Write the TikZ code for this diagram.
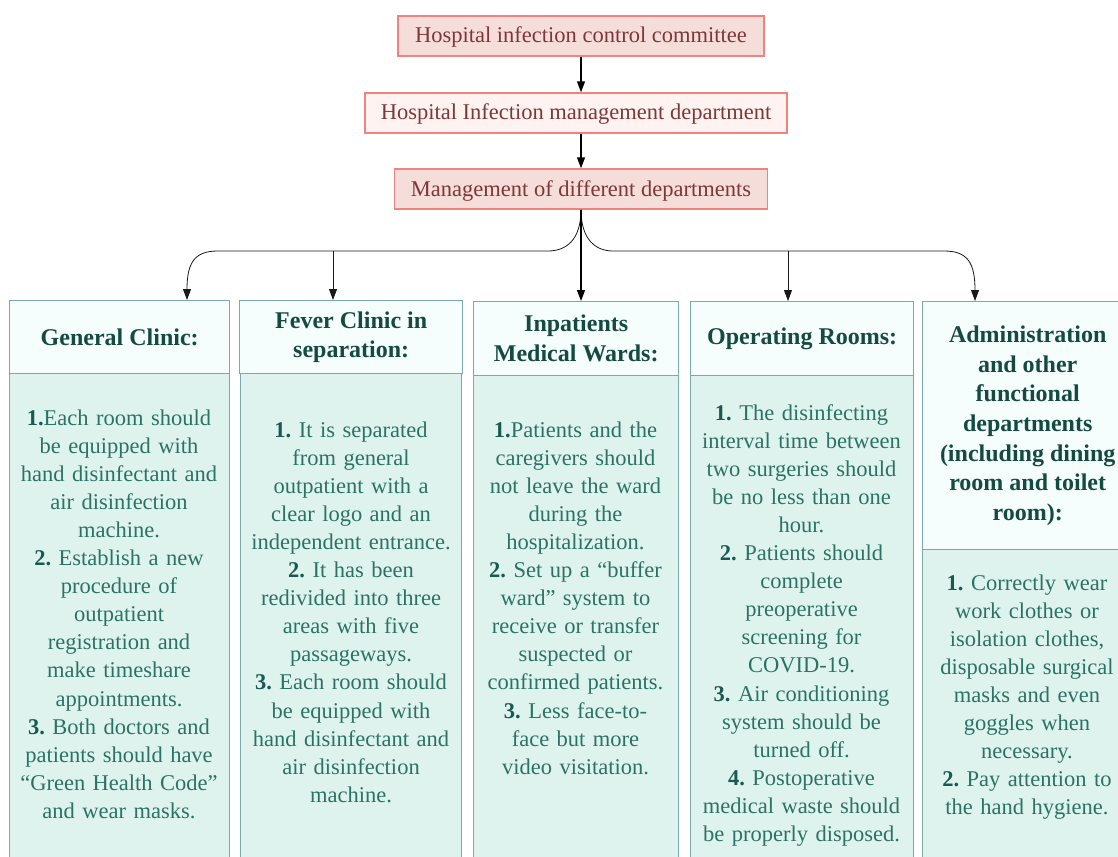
\documentclass[tikz,border=0pt]{standalone}
\usepackage{fontspec}
\setmainfont{Liberation Serif}
\usetikzlibrary{arrows.meta}
\definecolor{pinkfill}{RGB}{245,222,217}
\definecolor{pinklight}{RGB}{255,243,241}
\definecolor{pinkline}{RGB}{240,130,128}
\definecolor{redtext}{RGB}{125,55,55}
\definecolor{headfill}{RGB}{245,253,253}
\definecolor{tealline}{RGB}{122,170,172}
\definecolor{bodyfill}{RGB}{223,243,238}
\definecolor{headtext}{RGB}{20,75,65}
\definecolor{bodytext}{RGB}{42,115,100}
\definecolor{numtext}{RGB}{25,90,80}
\tikzset{
  topbox/.style={draw=pinkline, line width=1.4pt, minimum height=40pt, inner sep=0pt,
    text height=19pt, text depth=5pt,
    text=redtext, font=\fontsize{22.5}{27}\selectfont},
  headbox/.style={draw=tealline, line width=1.4pt, fill=headfill, anchor=north west,
    inner sep=0pt, text=headtext, align=center, font=\bfseries\fontsize{24}{29.7}\selectfont},
  bodybox/.style={draw=tealline, line width=1.4pt, fill=bodyfill, anchor=north west, inner sep=0pt},
  bodytxt/.style={anchor=base, text width=218pt, align=center, inner sep=0pt,
    text=bodytext, font=\frenchspacing\fontsize{22.5}{28.1}\selectfont},
  conn/.style={draw=black!90, line width=0.8pt, -{Triangle[length=11pt,width=8pt]}},
  mainarrow/.style={draw=black, line width=1.4pt, -{Triangle[length=11pt,width=8pt]}}
}
\newcommand{\nm}[1]{\textbf{\color{numtext}#1}}
\begin{document}
\frenchspacing
\begin{tikzpicture}[x=1pt,y=-1pt]
\useasboundingbox (0,0) rectangle (1118,856);
\clip (0,0) rectangle (1118,856);

% top chain
\node[topbox, fill=pinkfill, minimum width=366pt] (m1) at (581,36) {Hospital infection control committee};
\node[topbox, fill=pinklight, minimum width=422pt] (m2) at (576,113) {Hospital Infection management department};
\node[topbox, fill=pinkfill, minimum width=373pt] (m3) at (581,189) {Management of different departments};
\draw[mainarrow] (m1.south) -- (m1.south |- m2.north);
\draw[mainarrow] (m1.south |- m2.south) -- (m3.north);

% column bodies
\node[bodybox, minimum width=220pt, minimum height=520pt] (b1) at (9,373) {};
\node[bodybox, minimum width=221pt, minimum height=520pt] (b2) at (240,373) {};
\node[bodybox, minimum width=205pt, minimum height=520pt] (b3) at (473,375) {};
\node[bodybox, minimum width=223pt, minimum height=520pt] (b4) at (690,375) {};
\node[bodybox, minimum width=210pt, minimum height=400pt] (b5) at (922,549) {};

% column headers
\node[headbox, minimum width=220pt, minimum height=73pt] (h1) at (9,300) {General Clinic:};
\node[headbox, minimum width=223pt, minimum height=73pt] (h2) at (239,300) {Fever Clinic in\\separation:};
\node[headbox, minimum width=205pt, minimum height=74pt] (h3) at (473,301) {Inpatients\\Medical Wards:};
\node[headbox, minimum width=223pt, minimum height=74pt] (h4) at (690,301) {Operating Rooms:};
\node[headbox, minimum width=210pt, minimum height=248pt] (h5) at (922,301) {Administration\\and other\\functional\\departments\\(including dining\\room and toilet\\room):};

% body texts
\node[bodytxt] (t1) at (119,425) {\nm{1.}Each room should\\be equipped with\\hand disinfectant and\\air disinfection\\machine.\\\nm{2.} Establish a new\\procedure of\\outpatient\\registration and\\make timeshare\\appointments.\\\nm{3.} Both doctors and\\patients should have\\“Green Health Code”\\and wear masks.};
\node[bodytxt] (t2) at (351,437) {\nm{1.} It is separated\\from general\\outpatient with a\\clear logo and an\\independent entrance.\\\nm{2.} It has been\\redivided into three\\areas with five\\passageways.\\\nm{3.} Each room should\\be equipped with\\hand disinfectant and\\air disinfection\\machine.};
\node[bodytxt] (t3) at (575.5,437) {\nm{1.}Patients and the\\caregivers should\\not leave the ward\\during the\\hospitalization.\\\nm{2.} Set up a “buffer\\ward” system to\\receive or transfer\\suspected or\\confirmed patients.\\\nm{3.} Less face-to-\\face but more\\video visitation.};
\node[bodytxt] (t4) at (801.5,420) {\nm{1.} The disinfecting\\interval time between\\two surgeries should\\be no less than one\\hour.\\\nm{2.} Patients should\\complete\\preoperative\\screening for\\COVID-19.\\\nm{3.} Air conditioning\\system should be\\turned off.\\\nm{4.} Postoperative\\medical waste should\\be properly disposed.};
\node[bodytxt] (t5) at (1027,590) {\nm{1.} Correctly wear\\work clothes or\\isolation clothes,\\disposable surgical\\masks and even\\goggles when\\necessary.\\\nm{2.} Pay attention to\\the hand hygiene.};

% connector targets
\coordinate (a1) at (187,300);
\coordinate (a2) at (333,300);
\coordinate (a3) at (581,301);
\coordinate (a4) at (788,301);
\coordinate (a5) at (975,301);
\coordinate (j2) at (333,251);
\coordinate (j4) at (788,251);

\draw[conn] (m3.south) .. controls (581,240) and (566,251) .. (548,251) -- (218,251) .. controls (195,251) and (187,262) .. (a1);
\draw[conn] (m3.south) .. controls (581,240) and (596,251) .. (613,251) -- (944,251) .. controls (967,251) and (975,262) .. (a5);
\draw[conn] (j2) -- (a2);
\draw[conn] (j4) -- (a4);
\draw[mainarrow] (m3.south) -- (a3);
\end{tikzpicture}
\end{document}
